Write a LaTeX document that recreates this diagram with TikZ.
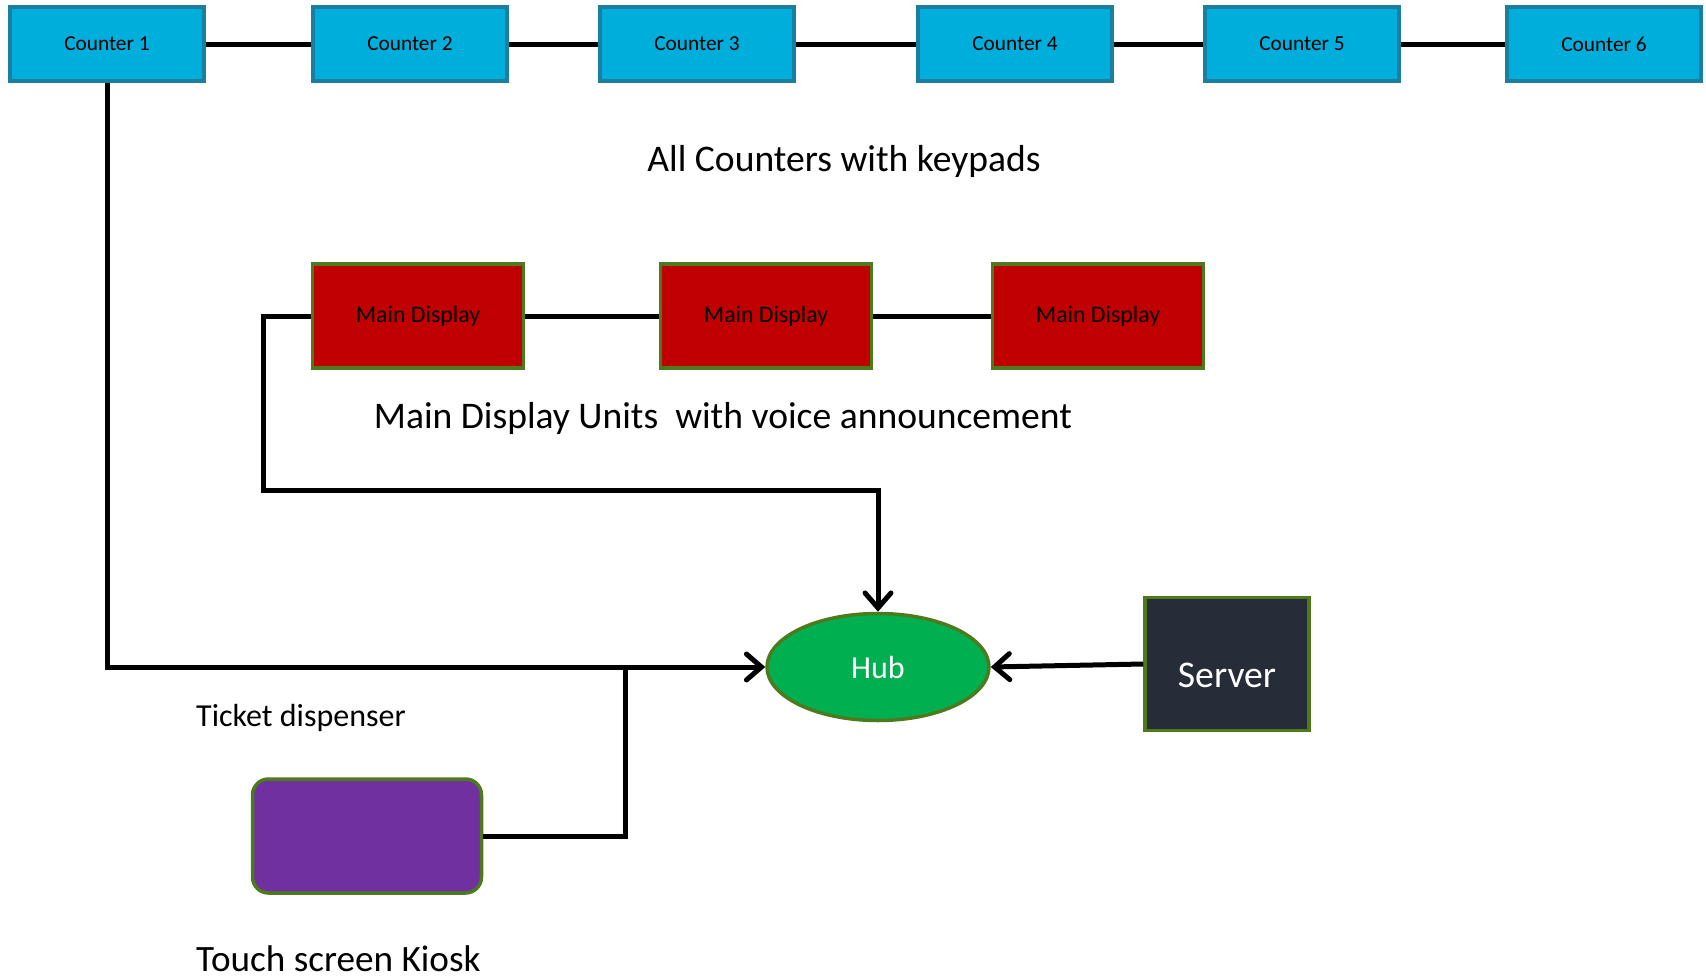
\documentclass[tikz,border=0pt]{standalone}
\usepackage{fontspec}
\setmainfont{Carlito}
\usetikzlibrary{arrows.meta,shapes.geometric}
\definecolor{ctrfill}{HTML}{00AEDB}
\definecolor{ctrline}{HTML}{1A7FA0}
\definecolor{mdfill}{HTML}{C00000}
\definecolor{grnline}{HTML}{4E7A1E}
\definecolor{hubfill}{HTML}{00B050}
\definecolor{srvfill}{HTML}{272D38}
\definecolor{kioskfill}{HTML}{7030A0}
\tikzset{
  ctr/.style={draw=ctrline, line width=3.5pt, fill=ctrfill, minimum width=194pt, minimum height=74pt, inner sep=0pt, font=\fontsize{21.3}{25}\selectfont},
  mdisp/.style={draw=grnline, line width=3.5pt, fill=mdfill, minimum width=211pt, minimum height=104pt, inner sep=0pt, font=\fontsize{23.8}{28}\selectfont},
  hubst/.style={ellipse, draw=grnline, line width=3.5pt, fill=hubfill, minimum width=222pt, minimum height=107pt, inner sep=0pt, text=white, font=\fontsize{32}{38}\selectfont},
  srv/.style={draw=grnline, line width=3.5pt, fill=srvfill, minimum width=164pt, minimum height=133pt, inner sep=0pt, text=white, font=\fontsize{37.7}{44}\selectfont},
  kiosk/.style={draw=grnline, line width=3.5pt, fill=kioskfill, rounded corners=16pt, minimum width=229pt, minimum height=114pt, inner sep=0pt},
  lbl/.style={inner sep=0pt, font=\fontsize{37.6}{44}\selectfont},
  conn/.style={line width=5pt, black},
  arr/.style={conn, -{Straight Barb[length=15pt, width=26pt, line width=5pt, line cap=round]}},
}
\begin{document}
\begin{tikzpicture}[x=1pt, y=-1pt]
\useasboundingbox (0,0) rectangle (1706,980);
% counters
\node[ctr] (c1) at (107,44) {Counter 1};
\node[ctr] (c2) at (410,44) {Counter 2};
\node[ctr] (c3) at (697,44) {Counter 3};
\node[ctr] (c4) at (1015,44) {Counter 4};
\node[ctr] (c5) at (1302,44) {Counter 5};
\node[ctr] (c6) at (1604,44) {Counter 6};
\node[lbl] (tcnt) at (844,161) {All Counters with keypads};
% main displays
\node[mdisp] (m1) at (418,316) {Main Display};
\node[mdisp] (m2) at (766,316) {Main Display};
\node[mdisp] (m3) at (1098,316) {Main Display};
\node[lbl] (tmd) at (723,418) {Main Display Units\ \ with voice announcement};
% hub, server, kiosk
\node[hubst] (hub) at (878,667) {Hub};
\node[srv] (srv) at (1227,664) {};
\node[inner sep=0pt, text=white, font=\fontsize{37.7}{44}\selectfont] (srvt) at (1227,675) {Server};
\node[kiosk] (kio) at (367,836) {};
\node[lbl, anchor=west, font=\fontsize{32}{38}\selectfont] (ttd) at (196,718) {Ticket dispenser};
\node[lbl, anchor=west, font=\fontsize{37.2}{44}\selectfont] (tks) at (196,959) {Touch screen Kiosk};
% counter chain
\draw[conn] (c1) -- (c2);
\draw[conn] (c2) -- (c3);
\draw[conn] (c3) -- (c4);
\draw[conn] (c4) -- (c5);
\draw[conn] (c5) -- (c6);
% display chain
\draw[conn] (m1) -- (m2);
\draw[conn] (m2) -- (m3);
% display to hub
\coordinate (d1) at (263,316);
\coordinate (d2) at (263,490);
\coordinate (d3) at (hub.north |- d2);
\draw[arr, line join=miter] (m1.west) -- (d1) -- (d2) -- (d3) -- (hub.north);
% counter to hub
\coordinate (k1) at (c1.south |- hub.west);
\draw[arr, line join=miter] (c1.south) -- (k1) -- (hub.west);
% kiosk to hub
\coordinate (j1) at (625,836);
\coordinate (j2) at (625,667);
\draw[conn, line join=miter] (kio.east) -- (j1) -- (j2);
% server to hub
\draw[arr] (srv.west) -- (hub.east);
\end{tikzpicture}
\end{document}
